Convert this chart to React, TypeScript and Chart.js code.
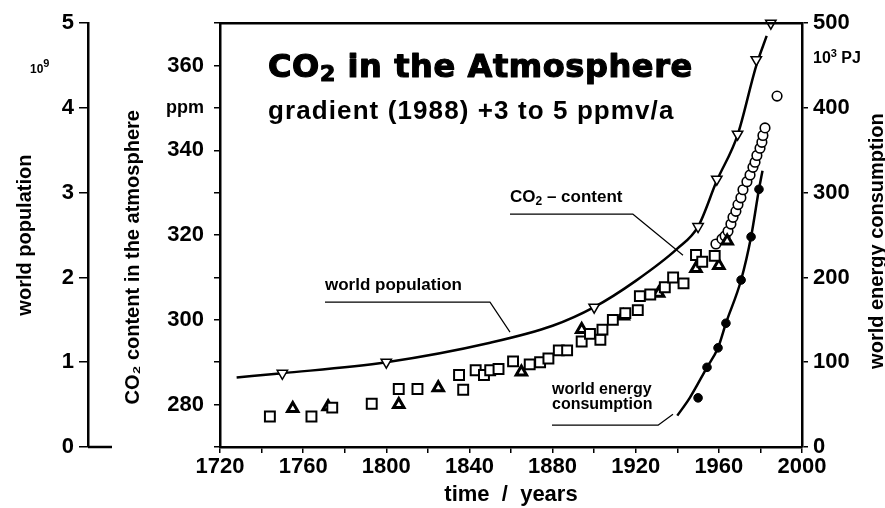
import React, { useEffect, useRef } from 'react';
import { Chart, registerables } from 'chart.js';

Chart.register(...registerables);

const FONT = '"Liberation Sans", Arial, sans-serif';
const WIDE = '"DejaVu Sans", sans-serif';

// ---- data ----
const popLineYears = [1728, 1750, 1800, 1850, 1880, 1900, 1920, 1940, 1950, 1959, 1969, 1978, 1983];
const popLineValues = [0.82, 0.87, 1.0, 1.23, 1.43, 1.65, 1.96, 2.34, 2.6, 3.14, 3.68, 4.5, 4.85];

const popMarkYears = [1750, 1800, 1900, 1950, 1959, 1969, 1978, 1985];
const popMarkValues = [0.87, 1.0, 1.65, 2.6, 3.16, 3.69, 4.57, 5.0];

const co2SquareYears = [1744, 1764, 1774, 1793, 1806, 1815, 1835, 1837, 1843, 1847, 1850, 1854, 1861, 1869, 1874, 1878, 1883, 1887, 1894, 1898, 1903, 1904, 1909, 1915, 1921, 1922, 1927, 1934, 1938, 1943, 1949, 1952, 1958];
const co2SquareValues = [277.2, 277.2, 279.3, 280.2, 283.7, 283.7, 287.0, 283.5, 288.1, 287.0, 288.1, 288.4, 290.2, 289.5, 290.0, 290.9, 292.8, 292.8, 294.9, 296.7, 295.3, 297.7, 300.0, 301.6, 302.3, 305.6, 306.0, 307.7, 310.0, 308.6, 315.3, 313.7, 315.1];

const co2TriangleYears = [1755, 1772, 1806, 1825, 1865, 1894, 1914, 1931, 1949, 1960, 1964];
const co2TriangleValues = [279.1, 279.5, 280.0, 284.0, 287.7, 297.7, 300.9, 306.3, 312.1, 312.8, 318.6];

const co2CircleYears = [1958.6, 1961.5, 1963, 1964.4, 1965.8, 1966.8, 1968.2, 1969.2, 1970.6, 1971.6, 1973.5, 1975, 1976.4, 1977.4, 1978.3, 1979.8, 1980.7, 1981.2, 1982.2, 1988];
const co2CircleValues = [317.9, 319.1, 319.8, 320.9, 322.6, 324.2, 325.6, 327.2, 328.8, 330.7, 332.6, 334.2, 336.0, 337.2, 338.8, 340.5, 341.9, 343.5, 345.3, 352.8];

const energyLineYears = [1940, 1946, 1954.3, 1959.6, 1963.4, 1970.7, 1975.5, 1979.3, 1981];
const energyLineValues = [37, 58, 94, 117, 146, 197, 248, 304, 326];

const energyDotYears = [1950, 1954.3, 1959.6, 1963.4, 1970.7, 1975.5, 1979.3];
const energyDotValues = [58, 94, 117, 146, 197, 248, 304];

function pts(xs: number[], ys: number[]) {
  return xs.map((x, i) => ({ x, y: ys[i] }));
}

type Part = [string, number, number]; // text, size, baseline shift

function drawParts(ctx: CanvasRenderingContext2D, x: number, y: number, parts: Part[], weight: string, family: string, spacing = 0, stroke = 0) {
  let cx = x;
  for (const [t, size, dy] of parts) {
    ctx.font = `${weight} ${size}px ${family}`;
    (ctx as any).letterSpacing = `${spacing}px`;
    ctx.fillText(t, cx, y + dy);
    if (stroke > 0) {
      ctx.lineWidth = stroke;
      ctx.lineJoin = 'round';
      ctx.strokeText(t, cx, y + dy);
    }
    cx += ctx.measureText(t).width;
  }
  (ctx as any).letterSpacing = '0px';
}

function line(ctx: CanvasRenderingContext2D, p: number[][], w: number) {
  ctx.lineWidth = w;
  ctx.beginPath();
  ctx.moveTo(p[0][0], p[0][1]);
  for (let i = 1; i < p.length; i++) ctx.lineTo(p[i][0], p[i][1]);
  ctx.stroke();
}

const annotations = {
  id: 'annotations',
  afterDraw(chart: any) {
    const ctx: CanvasRenderingContext2D = chart.ctx;
    const ca = chart.chartArea;
    const L = ca.left;
    const T = ca.top;
    const pop = chart.scales.pop;
    const en = chart.scales.energy;
    ctx.save();
    ctx.fillStyle = '#000';
    ctx.strokeStyle = '#000';
    ctx.lineCap = 'butt';
    // top frame line
    line(ctx, [[L - 1, T], [ca.right + 1, T]], 2.5);
    // zero line of population axis
    const y0 = pop.getPixelForValue(0);
    line(ctx, [[pop.right, y0], [pop.right + 24, y0]], 2.5);

    ctx.textBaseline = 'alphabetic';
    ctx.textAlign = 'left';
    // big title
    drawParts(ctx, L + 48, T + 54, [['CO', 32, 0], ['2', 22, 4], [' in the Atmosphere', 32, 0]], 'bold', WIDE, 0.6, 1.2);
    drawParts(ctx, L + 48, T + 96, [['gradient (1988) +3 to 5 ppmv/a', 26, 0]], 'bold', FONT, 1.1);

    // world population label
    drawParts(ctx, L + 105, T + 267, [['world population', 17, 0]], 'bold', FONT);
    line(ctx, [[L + 105, T + 279], [L + 270, T + 279], [L + 290, T + 309]], 1.2);

    // CO2 content label
    drawParts(ctx, L + 290, T + 179, [['CO', 17, 0], ['2', 12, 3], [' \u2013 content', 17, 0]], 'bold', FONT);
    line(ctx, [[L + 290, T + 191], [L + 413, T + 191], [L + 463, T + 232]], 1.2);

    // world energy consumption label
    drawParts(ctx, L + 332, T + 371, [['world energy', 16, 0]], 'bold', FONT);
    drawParts(ctx, L + 332, T + 386, [['consumption', 16, 0]], 'bold', FONT);
    line(ctx, [[L + 332, T + 402], [L + 438, T + 402], [L + 453, T + 391]], 1.2);

    // unit labels
    ctx.textBaseline = 'middle';
    drawParts(ctx, 30, pop.getPixelForValue(4.45), [['10', 12, 0], ['9', 11, -6]], 'bold', FONT);
    drawParts(ctx, en.left + 11, en.getPixelForValue(458), [['10', 16, 0], ['3', 11, -5], [' PJ', 16, 0]], 'bold', FONT);

    // right axis title (reads bottom to top)
    ctx.translate(chart.width - 8, (ca.top + ca.bottom) / 2 + 6);
    ctx.rotate(-Math.PI / 2);
    ctx.textAlign = 'center';
    ctx.font = `bold 20px ${FONT}`;
    ctx.fillText('world energy consumption', 0, 0);
    ctx.restore();
  },
};

const tickFont = { size: 22, weight: 'bold' as const, family: FONT };

export default function App() {
  const ref = useRef<HTMLCanvasElement>(null);
  useEffect(() => {
    document.body.style.margin = '0';
    const canvas = ref.current!;
    const chart = new Chart(canvas, {
      type: 'scatter',
      data: {
        datasets: [
          {
            label: 'population markers',
            data: pts(popMarkYears, popMarkValues),
            yAxisID: 'pop',
            pointStyle: 'triangle',
            rotation: 180,
            pointRadius: 6,
            backgroundColor: '#fff',
            borderColor: '#000',
            borderWidth: 1.5,
            clip: false,
          } as any,
          {
            label: 'world population',
            data: pts(popLineYears, popLineValues),
            yAxisID: 'pop',
            showLine: true,
            borderColor: '#000',
            borderWidth: 2.5,
            pointRadius: 0,
            tension: 0.4,
            cubicInterpolationMode: 'monotone',
          } as any,
          {
            label: 'CO2 squares',
            data: pts(co2SquareYears, co2SquareValues),
            yAxisID: 'co2',
            pointStyle: 'rect',
            pointRadius: 7,
            backgroundColor: '#fff',
            borderColor: '#000',
            borderWidth: 2,
          } as any,
          {
            label: 'CO2 triangles',
            data: pts(co2TriangleYears, co2TriangleValues),
            yAxisID: 'co2',
            pointStyle: 'triangle',
            pointRadius: 6,
            backgroundColor: '#fff',
            borderColor: '#000',
            borderWidth: 3,
          } as any,
          {
            label: 'CO2 circles',
            data: pts(co2CircleYears, co2CircleValues),
            yAxisID: 'co2',
            pointStyle: 'circle',
            pointRadius: 4.8,
            backgroundColor: '#fff',
            borderColor: '#000',
            borderWidth: 1.6,
          } as any,
          {
            label: 'energy dots',
            data: pts(energyDotYears, energyDotValues),
            yAxisID: 'energy',
            pointStyle: 'circle',
            pointRadius: 4.3,
            backgroundColor: '#000',
            borderColor: '#000',
            borderWidth: 1,
          } as any,
          {
            label: 'world energy consumption',
            data: pts(energyLineYears, energyLineValues),
            yAxisID: 'energy',
            showLine: true,
            borderColor: '#000',
            borderWidth: 2.5,
            pointRadius: 0,
            tension: 0.4,
            cubicInterpolationMode: 'monotone',
          } as any,
        ],
      },
      options: {
        responsive: false,
        animation: false,
        devicePixelRatio: 1,
        layout: { padding: { top: 21, left: 0, right: 0, bottom: 0 } },
        plugins: { legend: { display: false }, tooltip: { enabled: false } },
        scales: {
          x: {
            type: 'linear',
            position: 'bottom',
            min: 1720,
            max: 2000,
            afterFit: (s: any) => { s.height = 61; },
            ticks: {
              stepSize: 20,
              autoSkip: false,
              maxRotation: 0,
              padding: 1,
              color: '#000',
              font: tickFont,
              callback: (v: any) => (Number(v) % 40 === 0 ? String(v) : ''),
            },
            grid: { drawOnChartArea: false, drawTicks: true, tickLength: 6, color: '#000', lineWidth: 1.5 },
            border: { display: true, color: '#000', width: 2.5 },
            title: { display: true, text: 'time  /  years', color: '#000', font: { size: 22, weight: 'bold', family: FONT }, padding: { top: 0, bottom: 0 } },
          },
          pop: {
            type: 'linear',
            position: 'left',
            weight: 10,
            min: 0,
            max: 5,
            afterFit: (s: any) => { s.width = 88; },
            ticks: { stepSize: 1, padding: 5, color: '#000', font: tickFont },
            grid: { drawOnChartArea: false, drawTicks: true, tickLength: 9, color: '#000', lineWidth: 1.5 },
            border: { display: true, color: '#000', width: 2.5 },
            title: { display: true, text: 'world population', color: '#000', font: { size: 20, weight: 'bold', family: FONT }, padding: { top: 13, bottom: 0 } },
          },
          co2: {
            type: 'linear',
            position: 'left',
            weight: 0,
            min: 270,
            max: 370,
            afterFit: (s: any) => { s.width = 132; },
            ticks: {
              stepSize: 10,
              padding: 10,
              color: '#000',
              font: (c: any) => (c.tick && c.tick.value === 350 ? { size: 18, weight: 'bold', family: FONT } : tickFont),
              callback: (v: any) => {
                const n = Number(v);
                if (n === 350) return 'ppm';
                return n % 20 === 0 ? String(n) : '';
              },
            },
            grid: { drawOnChartArea: false, drawTicks: true, tickLength: 6, color: '#000', lineWidth: 1.5 },
            border: { display: true, color: '#000', width: 2.5 },
            title: { display: true, text: 'CO\u2082 content in the atmosphere        ', color: '#000', font: { size: 20, weight: 'bold', family: FONT }, padding: { top: 33, bottom: 0 } },
          },
          energy: {
            type: 'linear',
            position: 'right',
            min: 0,
            max: 500,
            afterFit: (s: any) => { s.width = 83; },
            ticks: { stepSize: 100, padding: 5, color: '#000', font: tickFont },
            grid: { drawOnChartArea: false, drawTicks: true, tickLength: 6, color: '#000', lineWidth: 1.5 },
            border: { display: true, color: '#000', width: 2.5 },
          },
        },
      } as any,
      plugins: [annotations],
    });
    return () => chart.destroy();
  }, []);
  return <canvas ref={ref} width={885} height={508} style={{ display: 'block' }} />;
}
